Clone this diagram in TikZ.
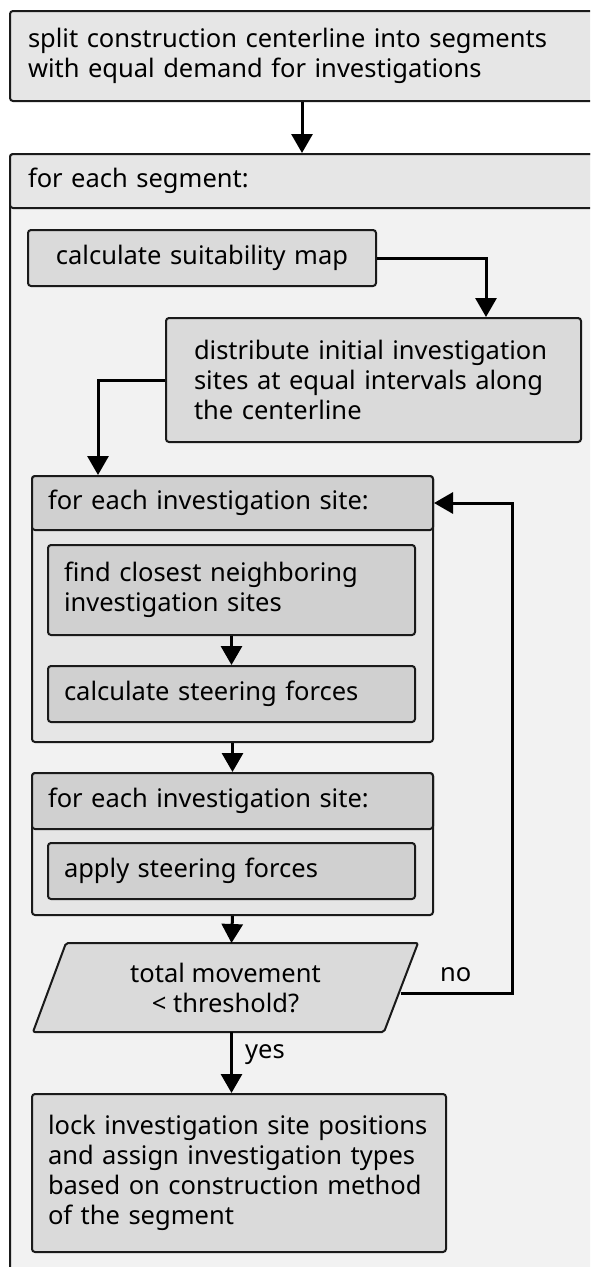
\documentclass[tikz,border=0pt]{standalone}
\usepackage{fontspec}
\setmainfont{Noto Sans}
\usetikzlibrary{arrows.meta,calc}
\definecolor{cA}{HTML}{E6E6E6}
\definecolor{cB}{HTML}{F2F2F2}
\definecolor{cC}{HTML}{DADADA}
\definecolor{cD}{HTML}{D0D0D0}
\definecolor{ln}{HTML}{1A1A1A}
\newcommand{\ff}{\fontsize{25.5}{30}\selectfont}
\begin{document}
\begin{tikzpicture}[x=1pt,y=-1pt,
  box/.style={draw=ln, line width=2pt, rounded corners=3pt, anchor=north west,
    inner ysep=0pt, align=left, font=\ff},
  arr/.style={draw=black, line width=3pt, -{Triangle[width=21pt,length=19pt]}},
  lbl/.style={font=\ff, inner sep=0pt}]
\useasboundingbox (0,0) rectangle (590,1267);
\clip (0,0) rectangle (590,1267);
\fill[white] (0,0) rectangle (590,1267);
% top
\node[box, fill=cA, minimum width=584pt, minimum height=90pt, inner xsep=18pt, text width=548pt] (top) at (9,10)
  {split construction centerline into segments\\with equal demand for investigations};
% segment container
\node[box, fill=cB, minimum width=584pt, minimum height=1150pt] (segbody) at (9,153) {};
\node[box, fill=cA, minimum width=584pt, minimum height=54pt, inner xsep=18pt, text width=548pt] (seghead) at (9,153)
  {for each segment:};
% suitability
\node[box, fill=cC, minimum width=348pt, minimum height=56pt, inner xsep=14pt, text width=320pt, align=center] (suit) at (27,229)
  {calculate suitability map};
\node[box, fill=cC, minimum width=415pt, minimum height=124pt, inner xsep=28pt, text width=359pt] (dist) at (165,317)
  {distribute initial investigation\\sites at equal intervals along\\the centerline};
% loop 1
\node[box, fill=cA, minimum width=401pt, minimum height=266pt] (l1b) at (31,475) {};
\node[box, fill=cD, minimum width=401pt, minimum height=54pt, inner xsep=16pt, text width=369pt] (l1h) at (31,475)
  {for each investigation site:};
\node[box, fill=cD, minimum width=367pt, minimum height=90pt, inner xsep=16pt, text width=335pt] (find) at (47,544)
  {find closest neighboring\\investigation sites};
\node[box, fill=cD, minimum width=367pt, minimum height=56pt, inner xsep=16pt, text width=335pt] (steer) at (47,665)
  {calculate steering forces};
% loop 2
\node[box, fill=cA, minimum width=401pt, minimum height=142pt] (l2b) at (31,772) {};
\node[box, fill=cD, minimum width=401pt, minimum height=56pt, inner xsep=16pt, text width=369pt] (l2h) at (31,772)
  {for each investigation site:};
\node[box, fill=cD, minimum width=367pt, minimum height=56pt, inner xsep=16pt, text width=335pt] (apply) at (47,842)
  {apply steering forces};
% decision
\draw[draw=ln, line width=2pt, fill=cC, rounded corners=2pt]
  (66,943) -- (418,943) -- (384,1032) -- (33,1032) -- cycle;
\node[lbl, align=center] (dec) at (225.5,987.5) {total movement\\< threshold?};
\coordinate (decT) at (231.5,943);
\coordinate (decB) at (231.5,1032);
\coordinate (decR) at (400.5,993);
% lock
\node[box, fill=cC, minimum width=414pt, minimum height=158pt, inner xsep=16pt, text width=382pt] (lock) at (31,1093)
  {lock investigation site positions\\and assign investigation types\\based on construction method\\of the segment};
% arrows
\draw[arr] (top.south) -- (seghead.north);
\draw[arr] (suit.east) -| ([xshift=-96pt]dist.north east);
\draw[arr] (dist.west) -| ([xshift=67pt]l1h.north west);
\draw[arr] (find.south) -- (steer.north);
\draw[arr] (l1b.south) -- (l2h.north);
\draw[arr] (l2b.south) -- (decT);
\draw[arr] (decB) -- (decB |- lock.north);
\draw[arr] (decR) -| ($(l1h.east)+(78,0)$) -- (l1h.east);
\node[lbl, anchor=west] (no) at (440,975) {no};
\node[lbl, anchor=west] (yes) at (245,1055) {yes};
\end{tikzpicture}
\end{document}
